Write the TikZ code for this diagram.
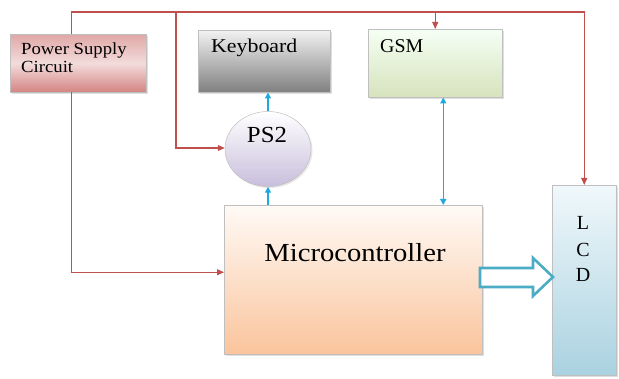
\documentclass[tikz,border=0pt]{standalone}
\usepackage{fontspec}
\setmainfont{Liberation Serif}
\usetikzlibrary{arrows.meta,shapes.geometric,shadows,calc}
\definecolor{pred}{RGB}{192,80,77}
\definecolor{cyanl}{RGB}{30,170,225}
\definecolor{aqua}{RGB}{75,172,198}
\tikzset{
  box/.style={rectangle, draw=black!25, line width=0.5pt, anchor=north west, inner sep=0pt,
    drop shadow={opacity=0.25, shadow xshift=1.5pt, shadow yshift=-1.5pt}},
  pline/.style={draw=pred, line width=1.1pt, -{Triangle[length=7pt,width=6pt]}},
  cline/.style={draw=cyanl, line width=1.4pt, -{Triangle[length=6pt,width=6pt]}},
  lbl/.style={anchor=base west, inner sep=0pt},
}
\newcommand{\fs}[2]{\fontsize{#1}{#2}\selectfont}
\begin{document}
\begin{tikzpicture}[x=1pt,y=-1pt]
\useasboundingbox (0,0) rectangle (619,379);
% boxes
\node[box, minimum width=136pt, minimum height=58pt, top color=pred!50, bottom color=pred!70, middle color=pred!20] (ps) at (10,34) {};
\node[box, minimum width=132pt, minimum height=62pt, top color=white!95!black, bottom color=black!50] (kb) at (198,30) {};
\node[box, minimum width=134pt, minimum height=68pt, top color=white!96!green, bottom color={rgb,255:red,214;green,227;blue,188}] (gsm) at (368,29) {};
\node[ellipse, draw=black!25, line width=0.5pt, minimum width=86pt, minimum height=75pt, top color=white, bottom color={rgb,255:red,200;green,190;blue,220}, inner sep=0pt,
  drop shadow={opacity=0.2, shadow xshift=1.5pt, shadow yshift=-1.5pt}] (ps2) at (268,149) {};
\node[box, minimum width=258pt, minimum height=149pt, top color={rgb,255:red,255;green,250;blue,246}, bottom color={rgb,255:red,250;green,196;blue,156}] (mc) at (224,205) {};
\node[box, minimum width=64pt, minimum height=190pt, top color={rgb,255:red,240;green,248;blue,251}, bottom color={rgb,255:red,170;green,210;blue,224}] (lcd) at (552,185) {};
% texts
\node[lbl, align=left, font=\fs{17}{18}] (pst) at (21,73) {\scalebox{1.1}[1]{Power Supply}\\\scalebox{1.1}[1]{Circuit}};
\node[lbl, font=\fs{19.5}{20}] (kbt) at (211,53) {\scalebox{1.12}[1]{Keyboard}};
\node[lbl, font=\fs{19.5}{20}] (gsmt) at (380,53) {\scalebox{1.02}[1]{GSM}};
\node[anchor=base, inner sep=0pt, font=\fs{23}{24}] (ps2t) at (267,143) {\scalebox{1.08}[1]{PS2}};
\node[anchor=base, inner sep=0pt, font=\fs{26}{28}] (mct) at (355,262) {\scalebox{1.1}[1]{Microcontroller}};
\node[anchor=base, inner sep=0pt, font=\fs{20}{20}] (l1) at (583,230) {L};
\node[anchor=base, inner sep=0pt, font=\fs{20}{20}] (l2) at (583,257) {C};
\node[anchor=base, inner sep=0pt, font=\fs{20}{20}] (l3) at (583,282) {D};
% power lines
\coordinate (top) at (0,12);
\coordinate (b1) at (176,12);
\draw[pline] ([xshift=-7pt]ps.north) |- (top -| lcd.north) -- (lcd.north);
\draw[pline] (b1) |- ([yshift=1pt]ps2.west);
\draw[pline] (top -| gsm.north) -- (gsm.north);
\draw[pline] ([xshift=-7pt]ps.south) |- ([yshift=7.5pt]mc.west);
% data lines
\draw[cline] (ps2.north) -- (ps2.north |- kb.south);
\draw[cline] (mc.north -| ps2.south) -- (ps2.south);
\draw[cline, {Triangle[length=6pt,width=6pt]}-{Triangle[length=6pt,width=6pt]}] ([xshift=8pt]gsm.south) -- ([xshift=8pt]gsm.south |- mc.north);
% hollow arrow
\coordinate (ha) at (480,268);
\coordinate (hb) at (553,277);
\draw[draw=aqua, line width=2.6pt, fill=white, line join=miter]
  (ha) -- (533,268) -- (533,258) -- (hb) -- (533,296) -- (533,287) -- (480,287) -- cycle;
\end{tikzpicture}
\end{document}
